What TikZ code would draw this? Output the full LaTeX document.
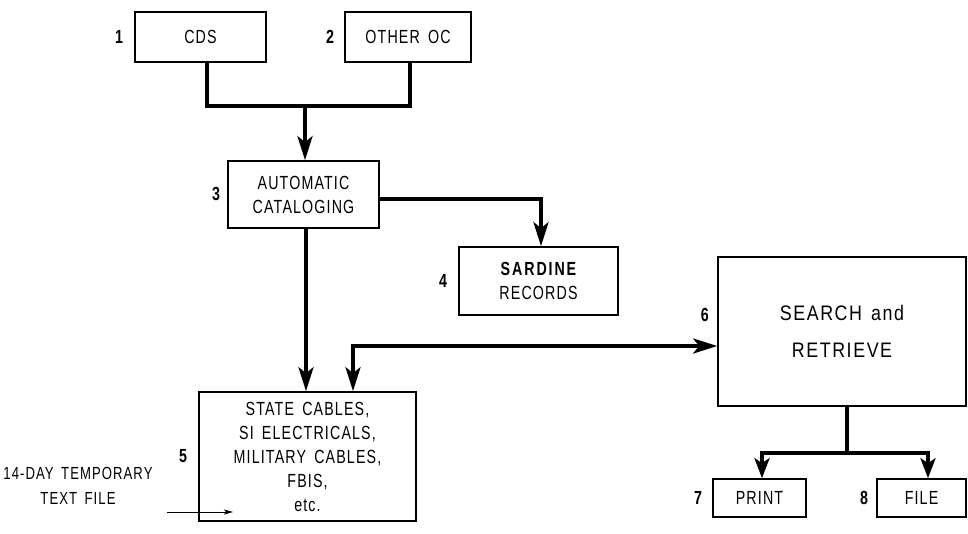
\documentclass[tikz,border=0pt]{standalone}
\usepackage{fontspec}
\setmainfont{Liberation Sans}[FakeStretch=0.75, LetterSpace=6, WordSpace=1.6]
\newfontfamily\widefont{Liberation Sans}[FakeStretch=0.85, LetterSpace=7.5, WordSpace=1.4]
\usetikzlibrary{arrows.meta}
\tikzset{
  mytip/.tip={Stealth[length=24pt,width=15pt,inset=6pt]},
  shorttip/.tip={Stealth[length=20pt,width=15pt,inset=5pt]},
  smalltip/.tip={Stealth[length=9pt,width=5pt,inset=2pt]},
  box/.style={draw, line width=1.6pt, inner sep=0pt, align=center, font=\fontsize{19}{24}\selectfont},
  num/.style={font=\bfseries\fontsize{19}{20}\selectfont, anchor=east, inner sep=0pt},
  conn/.style={line width=3.8pt},
  note/.style={font=\fontsize{17.5}{25}\selectfont, align=center, inner sep=0pt},
  thinarrow/.style={line width=0.8pt, -smalltip}
}
\begin{document}
\begin{tikzpicture}[x=1pt,y=-1pt]
\useasboundingbox (0,0) rectangle (968,533);
% boxes
\node[box, minimum width=131pt, minimum height=50pt] (b1) at (200.5,37) {CDS};
\node[box, minimum width=126pt, minimum height=50pt] (b2) at (408,37) {OTHER OC};
\node[box, minimum width=151pt, minimum height=67pt] (b3) at (303.5,194.5) {AUTOMATIC\\CATALOGING};
\node[box, minimum width=159pt, minimum height=68pt] (b4) at (538.5,281) {{\bfseries\addfontfeatures{LetterSpace=10}SARDINE}\\RECORDS};
\node[box, minimum width=217pt, minimum height=129pt] (b5) at (307.5,456.5) {STATE CABLES,\\SI ELECTRICALS,\\MILITARY CABLES,\\FBIS,\\etc.};
\node[box, minimum width=248pt, minimum height=149pt, font=\widefont\fontsize{21}{37}\selectfont] (b6) at (842,331.5) {SEARCH and\\RETRIEVE};
\node[box, minimum width=93pt, minimum height=38pt] (b7) at (759.5,498) {PRINT};
\node[box, minimum width=89pt, minimum height=38pt] (b8) at (921.5,498) {FILE};
% numbers
\node[num] (n1) at ([xshift=-11pt]b1.west) {1};
\node[num] (n2) at ([xshift=-10pt]b2.west) {2};
\node[num] (n3) at ([xshift=-7pt,yshift=1pt]b3.west) {3};
\node[num] (n4) at ([xshift=-11pt]b4.west) {4};
\node[num] (n5) at ([xshift=-11pt]b5.west) {5};
\node[num] (n6) at (709,315) {6};
\node[num] (n7) at ([xshift=-10pt]b7.west) {7};
\node[num] (n8) at ([xshift=-8pt]b8.west) {8};
% side note
\node[note] (tmp) at (78,486) {14-DAY TEMPORARY\\TEXT FILE};
\coordinate (ta1) at (167,512);
\coordinate (ta2) at (233,512);
\draw[thinarrow] (ta1) -- (ta2);
% connectors
\coordinate (j1) at (305,106);
\draw[conn] ([xshift=6.5pt]b1.south) |- (j1) -| ([xshift=2pt]b2.south);
\draw[conn,-mytip] (j1) -- (j1 |- b3.north);
\draw[conn,-mytip] ([yshift=-4.5pt]b3.east) -| ([xshift=2.5pt]b4.north);
\coordinate (d3) at ([xshift=2.5pt]b3.south);
\draw[conn,-mytip] (d3) -- (d3 |- b5.north);
\coordinate (k) at (353,346);
\draw[conn,mytip-mytip] (k |- b5.north) -- (k) -- (k -| b6.west);
\coordinate (s6) at ([xshift=5pt]b6.south);
\coordinate (sj) at (847,453);
\coordinate (p7) at ([xshift=2.5pt]b7.north);
\coordinate (p8) at ([xshift=6.5pt]b8.north);
\coordinate (q7) at (p7 |- sj);
\coordinate (q8) at (p8 |- sj);
\draw[conn] (s6) -- (sj);
\draw[conn] ([xshift=-1.9pt]q7) -- ([xshift=1.9pt]q8);
\draw[conn,-shorttip] ([yshift=1.9pt]q7) -- (p7);
\draw[conn,-shorttip] ([yshift=1.9pt]q8) -- (p8);
\end{tikzpicture}
\end{document}
